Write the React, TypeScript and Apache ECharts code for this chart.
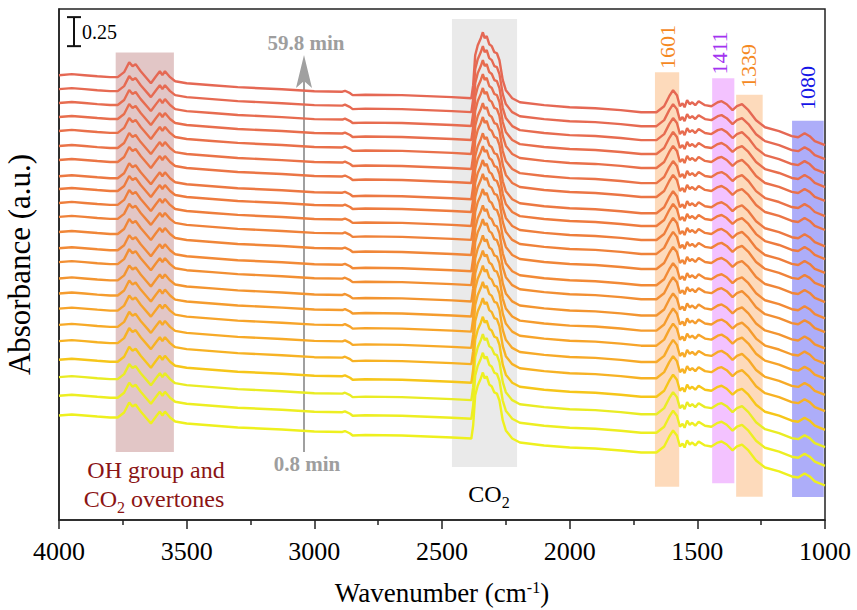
import React, { useEffect, useRef } from "react";
import * as echarts from "echarts";

// Wavenumber (cm-1) sample points of the spectra
const wavenumbers = [4000, 3950, 3900, 3850, 3800, 3770, 3745, 3725, 3712, 3700, 3680, 3650, 3640, 3620, 3605, 3595, 3585, 3565, 3545, 3500, 3400, 3300, 3127, 3000, 2890, 2880, 2860, 2850, 2800, 2657, 2460, 2385, 2378, 2370, 2360, 2348, 2340, 2333, 2325, 2315, 2305, 2295, 2285, 2275, 2262, 2250, 2225, 2195, 2100, 2000, 1900, 1800, 1720, 1660, 1630, 1610, 1595, 1580, 1568, 1558, 1550, 1540, 1530, 1520, 1508, 1495, 1470, 1445, 1420, 1405, 1385, 1362, 1345, 1325, 1300, 1270, 1235, 1180, 1130, 1105, 1080, 1060, 1040, 1000];
// Absorbance relative to the value at 4000 cm-1
const baseShape = [0, 0.009, 0, -0.009, -0.017, -0.017, 0.026, 0.112, 0.078, 0.095, 0.034, -0.043, -0.069, -0.009, 0.034, 0, 0.034, -0.017, -0.052, -0.069, -0.086, -0.103, -0.121, -0.138, -0.142, -0.134, -0.155, -0.172, -0.168, -0.172, -0.189, -0.198, -0.086, 0.172, 0.258, 0.319, 0.37, 0.319, 0.336, 0.267, 0.25, 0.198, 0.189, 0.129, -0.043, -0.129, -0.198, -0.233, -0.258, -0.276, -0.284, -0.301, -0.319, -0.319, -0.267, -0.181, -0.129, -0.172, -0.267, -0.241, -0.276, -0.215, -0.25, -0.233, -0.258, -0.224, -0.258, -0.267, -0.233, -0.224, -0.25, -0.301, -0.267, -0.25, -0.301, -0.388, -0.448, -0.482, -0.525, -0.534, -0.5, -0.525, -0.568, -0.603];
// Stacking offsets, from 0.8 min (bottom) to 59.8 min (top)
const offsets = [0.9, 1.07, 1.23, 1.38, 1.54, 1.68, 1.82, 1.95, 2.08, 2.22, 2.34, 2.48, 2.61, 2.73, 2.85, 2.96, 3.1, 3.22, 3.35, 3.47, 3.59, 3.71, 3.83];
const lineColors = ["#EEF01E", "#EDEE22", "#E9EC24", "#F6C61A", "#F7B224", "#F7AA28", "#F7A42A", "#F59C2E", "#F39530", "#F28F33", "#F28A36", "#F08638", "#EF823A", "#EE7E3C", "#EE7B3E", "#EC7842", "#EB7545", "#EA7348", "#E9704A", "#E86E4D", "#E76C50", "#E66A52", "#E56854"];

// Highlighted bands
const bandFrom = [3778, 2461, 1666, 1442, 1348, 1129];
const bandTo = [3550, 2206, 1571, 1355, 1244, 1005];
const bandBottom = [0.586, 0.456, 0.287, 0.316, 0.201, 0.198];
const bandTop = [4.025, 4.313, 3.856, 3.804, 3.661, 3.437];
const bandColors = ["rgba(150,50,50,0.28)", "rgba(190,190,190,0.33)", "rgba(250,150,60,0.35)", "rgba(220,80,255,0.35)", "rgba(250,150,60,0.35)", "rgba(60,60,240,0.42)"];

const peakLabels = ["1601", "1411", "1339", "1080"];
const peakLabelColors = ["#F5891F", "#A334F0", "#F5891F", "#1515E6"];

const scaleBarValue = 0.25;
const scaleBarBottom = 4.08;

const FONT = "'Liberation Serif', 'Times New Roman', serif";

export default function App() {
  const ref = useRef<HTMLDivElement>(null);
  useEffect(() => {
    if (!ref.current) return;
    const chart = echarts.init(ref.current, undefined, { renderer: "svg" });
    const series: any[] = offsets.map((off, i) => ({
      type: "line",
      name: "spectrum " + (i + 1),
      data: wavenumbers.map((w, k) => [w, off + baseShape[k]]),
      showSymbol: false,
      symbol: "none",
      lineStyle: { color: lineColors[i], width: 2.4 },
      z: 2,
    }));
    series.push({
      type: "line",
      name: "bands",
      data: [],
      z: 5,
      silent: true,
      markArea: {
        silent: true,
        data: bandFrom.map((f, i) => [
          { xAxis: f, yAxis: bandBottom[i], itemStyle: { color: bandColors[i] } },
          { xAxis: bandTo[i], yAxis: bandTop[i] },
        ]),
      },
    });
    chart.setOption({
      animation: false,
      grid: { left: 59, right: 32, top: 9, bottom: 90, outerBoundsMode: "none", containLabel: false, show: true, borderColor: "#222", borderWidth: 1.5, backgroundColor: "transparent" },
      xAxis: {
        type: "value",
        min: 1000,
        max: 4000,
        interval: 500,
        inverse: true,
        name: "Wavenumber (cm{sup|-1})",
        nameLocation: "middle",
        nameGap: 59,
        nameTextStyle: {
          fontFamily: FONT,
          fontSize: 27,
          color: "#000",
          lineHeight: 28,
          rich: { sup: { fontFamily: FONT, fontSize: 16, lineHeight: 14, verticalAlign: "top", color: "#000" } },
        },
        axisLine: { lineStyle: { color: "#222", width: 1.5 } },
        axisTick: { show: true, inside: false, length: 9, lineStyle: { color: "#222", width: 1.5 } },
        minorTick: { show: true, splitNumber: 2, length: 5, lineStyle: { color: "#222", width: 1.5 } },
        axisLabel: { fontFamily: FONT, fontSize: 26, color: "#000", margin: 18, formatter: (v: number) => String(v) },
        splitLine: { show: false },
      },
      yAxis: {
        type: "value",
        min: 0,
        max: 4.4,
        name: "Absorbance (a.u.)",
        nameLocation: "middle",
        nameGap: 24,
        nameTextStyle: { fontFamily: FONT, fontSize: 31, color: "#000" },
        axisLine: { show: true, lineStyle: { color: "#222", width: 1.5 } },
        axisTick: { show: false },
        axisLabel: { show: false },
        splitLine: { show: false },
      },
      series,
    });

    const x0 = 74;
    const yTop = chart.convertToPixel({ yAxisIndex: 0 }, scaleBarBottom + scaleBarValue) as number;
    const yBot = chart.convertToPixel({ yAxisIndex: 0 }, scaleBarBottom) as number;
    const labelPos = [
      [667, 47],
      [719, 53],
      [748, 66],
      [807, 88],
    ];
    chart.setOption({
      graphic: [
        { type: "line", shape: { x1: x0, y1: yTop, x2: x0, y2: yBot }, style: { stroke: "#111", lineWidth: 2 } },
        { type: "line", shape: { x1: x0 - 7, y1: yTop, x2: x0 + 7, y2: yTop }, style: { stroke: "#111", lineWidth: 2 } },
        { type: "line", shape: { x1: x0 - 7, y1: yBot, x2: x0 + 7, y2: yBot }, style: { stroke: "#111", lineWidth: 2 } },
        {
          type: "text",
          x: 82,
          y: (yTop + yBot) / 2,
          style: { text: String(scaleBarValue), fontFamily: FONT, fontSize: 20, fill: "#000", align: "left", verticalAlign: "middle" },
        },
        { type: "line", shape: { x1: 304, y1: 452, x2: 304, y2: 80 }, style: { stroke: "#A0A0A0", lineWidth: 2 } },
        { type: "polygon", shape: { points: [[304, 55], [296, 88], [304, 81], [312, 88]] }, style: { fill: "#A0A0A0" } },
        {
          type: "text",
          x: 306,
          y: 43,
          style: { text: "59.8 min", fontFamily: FONT, fontSize: 21, fontWeight: "bold", fill: "#9E9E9E", align: "center", verticalAlign: "middle" },
        },
        {
          type: "text",
          x: 307,
          y: 464,
          style: { text: "0.8 min", fontFamily: FONT, fontSize: 21, fontWeight: "bold", fill: "#9E9E9E", align: "center", verticalAlign: "middle" },
        },
        {
          type: "text",
          x: 156,
          y: 470,
          style: { text: "OH group and", fontFamily: FONT, fontSize: 24, fill: "#8B1414", align: "center", verticalAlign: "middle" },
        },
        {
          type: "text",
          x: 154,
          y: 499,
          style: {
            text: "{a|CO}{b|2}{a| overtones}",
            fontFamily: FONT,
            fontSize: 24,
            fill: "#8B1414",
            align: "center",
            verticalAlign: "middle",
            rich: {
              a: { fontFamily: FONT, fontSize: 24, lineHeight: 32, fill: "#8B1414" },
              b: { fontFamily: FONT, fontSize: 16, lineHeight: 16, verticalAlign: "bottom", fill: "#8B1414" },
            },
          },
        },
        {
          type: "text",
          x: 489,
          y: 494,
          style: {
            text: "{a|CO}{b|2}",
            fontFamily: FONT,
            fontSize: 24,
            fill: "#000",
            align: "center",
            verticalAlign: "middle",
            rich: {
              a: { fontFamily: FONT, fontSize: 24, lineHeight: 32, fill: "#000" },
              b: { fontFamily: FONT, fontSize: 16, lineHeight: 16, verticalAlign: "bottom", fill: "#000" },
            },
          },
        },
        ...peakLabels.map((t, i) => ({
          type: "text",
          x: labelPos[i][0],
          y: labelPos[i][1],
          rotation: Math.PI / 2,
          style: { text: t, fontFamily: FONT, fontSize: 22, fill: peakLabelColors[i], align: "center", verticalAlign: "middle" },
        })),
      ],
    });
    return () => chart.dispose();
  }, []);
  return <div ref={ref} style={{ width: 857, height: 610, position: "absolute", left: 0, top: 0, background: "#fff" }} />;
}
